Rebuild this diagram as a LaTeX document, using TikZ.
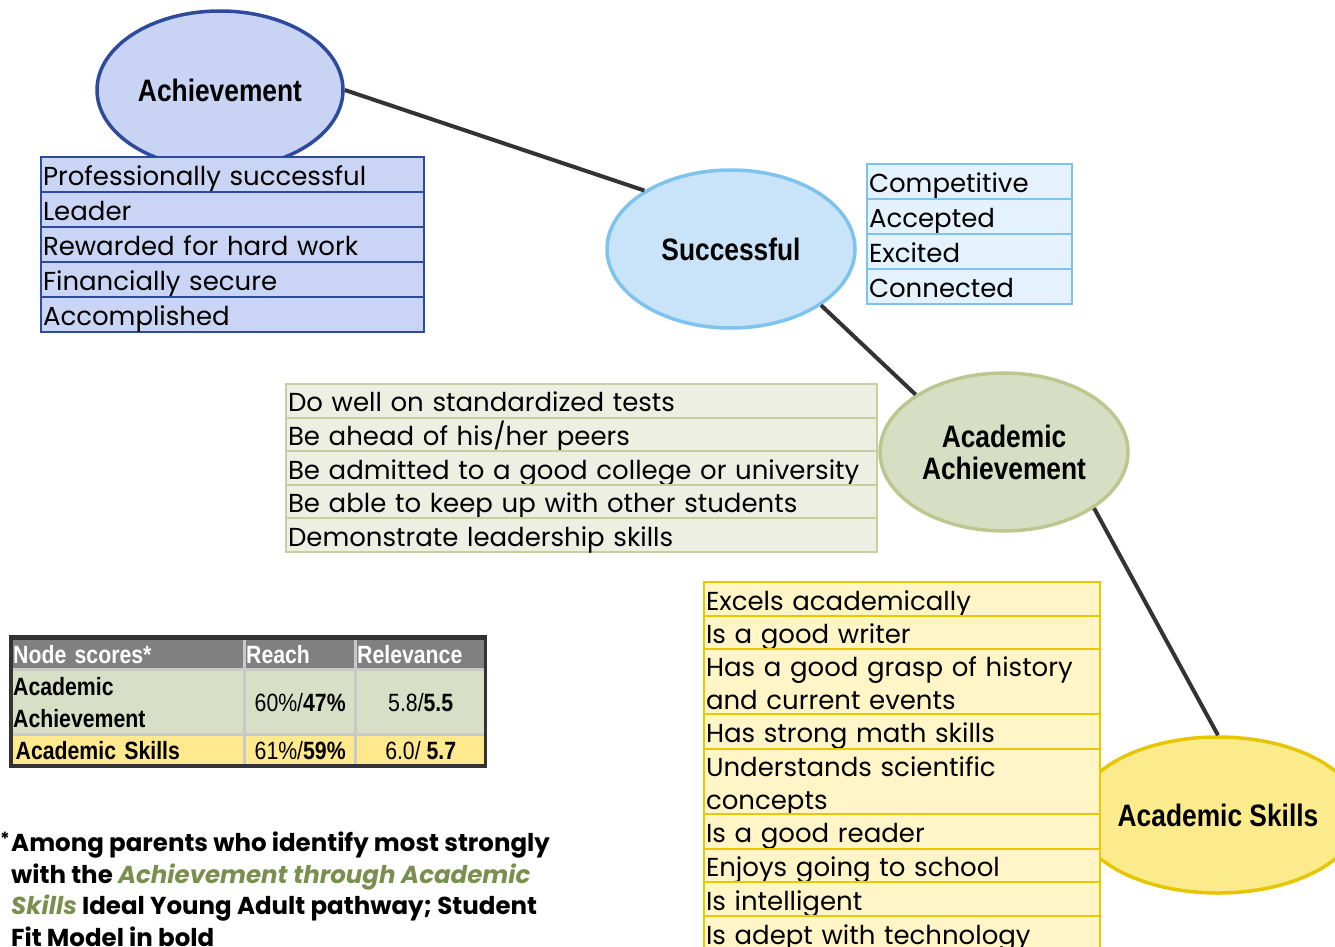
\documentclass[tikz,border=0pt]{standalone}
\usepackage{fontspec}
\setmainfont{Poppins}
\newfontfamily\narrowf[FakeStretch=0.85]{Liberation Sans}
\usetikzlibrary{shapes.geometric}
\definecolor{achfill}{HTML}{C9D3F3}
\definecolor{achdraw}{HTML}{2E4A9D}
\definecolor{achbox}{HTML}{CAD5F5}
\definecolor{sucfill}{HTML}{C9E4F8}
\definecolor{sucdraw}{HTML}{7EC2EE}
\definecolor{sucbox}{HTML}{E4F2FD}
\definecolor{aafill}{HTML}{D8DEC4}
\definecolor{aadraw}{HTML}{BCC68E}
\definecolor{aabox}{HTML}{EDEFE3}
\definecolor{aaboxdraw}{HTML}{C7CEA0}
\definecolor{asfill}{HTML}{FCEB8D}
\definecolor{asdraw}{HTML}{E6C600}
\definecolor{asbox}{HTML}{FFF5C7}
\definecolor{asboxdraw}{HTML}{E8C800}
\definecolor{linec}{HTML}{333333}
\definecolor{hdrgray}{HTML}{808080}
\definecolor{gridgray}{HTML}{C9C9C9}
\definecolor{rowgreen}{HTML}{D9DEC7}
\definecolor{rowyellow}{HTML}{FFE98E}
\definecolor{notegreen}{HTML}{7A8F4E}
\newcommand\myListFont{\fontsize{26}{32.5}\selectfont}
\newcommand\myBubbleFont{\narrowf\bfseries\fontsize{31}{32}\selectfont}
\newcommand\myTabFont{\narrowf\fontsize{25}{32}\selectfont}
\begin{document}
\begin{tikzpicture}[x=1pt,y=-1pt,
  bubble/.style={ellipse, line width=3.5pt, align=center, font=\myBubbleFont, inner sep=0pt},
  conn/.style={draw=linec, line width=4pt},
  rowbase/.style={anchor=north west, line width=2pt, inner xsep=2pt, inner ysep=0pt, align=left, font=\myListFont},
  onel/.style={text height=27pt, text depth=5pt},
  achrow/.style={rowbase, onel, fill=achbox, draw=achdraw, text width=379pt, minimum height=35pt},
  sucrow/.style={rowbase, onel, fill=sucbox, draw=sucdraw, text width=201pt, minimum height=35pt},
  aarow/.style={rowbase, onel, fill=aabox, draw=aaboxdraw, text width=587pt, minimum height=33.6pt},
  asrow/.style={rowbase, onel, fill=asbox, draw=asboxdraw, text width=392pt},
  asrowtwo/.style={rowbase, fill=asbox, draw=asboxdraw, text width=392pt, text height=27pt, text depth=37pt},
  cell/.style={anchor=north west, inner xsep=0pt, inner ysep=0pt, font=\myTabFont, align=center}
]
\useasboundingbox (0,0) rectangle (1335,947);

% bubbles
\node[bubble, fill=achfill, draw=achdraw, minimum width=246pt, minimum height=158pt] (ach) at (220,90) {Achievement};
\node[bubble, fill=sucfill, draw=sucdraw, minimum width=248pt, minimum height=158pt] (suc) at (731,249) {Successful};
\node[bubble, fill=aafill, draw=aadraw, minimum width=248pt, minimum height=158pt] (aa) at (1004,452) {Academic\\Achievement};
\node[bubble, fill=asfill, draw=asdraw, minimum width=240pt, minimum height=156pt] (as) at (1218,815) {Academic Skills};

% connectors
\draw[conn] (ach.east) -- (suc.146);
\draw[conn] (suc.328) -- (aa.147);
\draw[conn] (aa.328) -- (as.north);

% Achievement list
\node[achrow] (a1) at (40,156) {Professionally successful};
\node[achrow] (a2) at (40,191) {Leader};
\node[achrow] (a3) at (40,226) {Rewarded for hard work};
\node[achrow] (a4) at (40,261) {Financially secure};
\node[achrow] (a5) at (40,296) {Accomplished};

% Successful list
\node[sucrow] (s1) at (866,163) {Competitive};
\node[sucrow] (s2) at (866,198) {Accepted};
\node[sucrow] (s3) at (866,233) {Excited};
\node[sucrow] (s4) at (866,268) {Connected};

% Academic Achievement list
\node[aarow] (g1) at (285,383) {Do well on standardized tests};
\node[aarow] (g2) at (285,416.6) {Be ahead of his/her peers};
\node[aarow] (g3) at (285,450.2) {Be admitted to a good college or university};
\node[aarow] (g4) at (285,483.8) {Be able to keep up with other students};
\node[aarow] (g5) at (285,517.4) {Demonstrate leadership skills};

% Academic Skills list
\node[asrow, minimum height=34pt] (y1) at (703,581) {Excels academically};
\node[asrow, minimum height=33pt] (y2) at (703,615) {Is a good writer};
\node[asrowtwo, minimum height=65pt] (y3) at (703,648) {Has a good grasp of history\\and current events};
\node[asrow, minimum height=35pt] (y4) at (703,713) {Has strong math skills};
\node[asrowtwo, minimum height=65pt] (y5) at (703,748) {Understands scientific\\concepts};
\node[asrow, minimum height=35pt] (y6) at (703,813) {Is a good reader};
\node[asrow, minimum height=33pt] (y7) at (703,848) {Enjoys going to school};
\node[asrow, minimum height=34pt] (y8) at (703,881) {Is intelligent};
\node[asrow, minimum height=34pt] (y9) at (703,915) {Is adept with technology};

% table
\fill[linec] (9,635) rectangle (487,768);
\fill[gridgray] (13,640) rectangle (484,764);
\node[cell, fill=hdrgray, text=white, font=\myTabFont\bfseries, minimum width=230pt, minimum height=28pt, text width=230pt, align=left] (h1) at (13,640) {Node scores*};
\node[cell, fill=hdrgray, text=white, font=\myTabFont\bfseries, minimum width=108pt, minimum height=28pt, text width=108pt, align=left] (h2) at (246,640) {Reach};
\node[cell, fill=hdrgray, text=white, font=\myTabFont\bfseries, minimum width=127pt, minimum height=28pt, text width=127pt, align=left] (h3) at (357,640) {Relevance};
\node[cell, fill=rowgreen, font=\myTabFont\bfseries, minimum width=230pt, minimum height=62pt, text width=230pt, align=left] (r1c1) at (13,671) {Academic\\Achievement};
\node[cell, fill=rowgreen, minimum width=108pt, minimum height=62pt] (r1c2) at (246,671) {60\%/\textbf{47\%}};
\node[cell, fill=rowgreen, minimum width=127pt, minimum height=62pt] (r1c3) at (357,671) {5.8/\textbf{5.5}};
\node[cell, fill=rowyellow, font=\myTabFont\bfseries, minimum width=230pt, minimum height=28pt, text width=225pt, align=left, inner xsep=2.5pt] (r2c1) at (13,736) {Academic Skills};
\node[cell, fill=rowyellow, minimum width=108pt, minimum height=28pt] (r2c2) at (246,736) {61\%/\textbf{59\%}};
\node[cell, fill=rowyellow, minimum width=127pt, minimum height=28pt] (r2c3) at (357,736) {6.0/ \textbf{5.7}};

% footnote
\node[anchor=north west, inner sep=0pt, font=\bfseries\fontsize{18}{18}\selectfont] (star) at (0,832) {*};
\node[anchor=north west, inner sep=0pt, align=left, font=\bfseries\fontsize{24.5}{31.5}\selectfont] (note) at (11,832)
  {Among parents who identify most strongly\\
   with the {\color{notegreen}\itshape Achievement through Academic}\\
   {\color{notegreen}\itshape Skills} Ideal Young Adult pathway; Student\\
   Fit Model in bold};
\end{tikzpicture}
\end{document}
